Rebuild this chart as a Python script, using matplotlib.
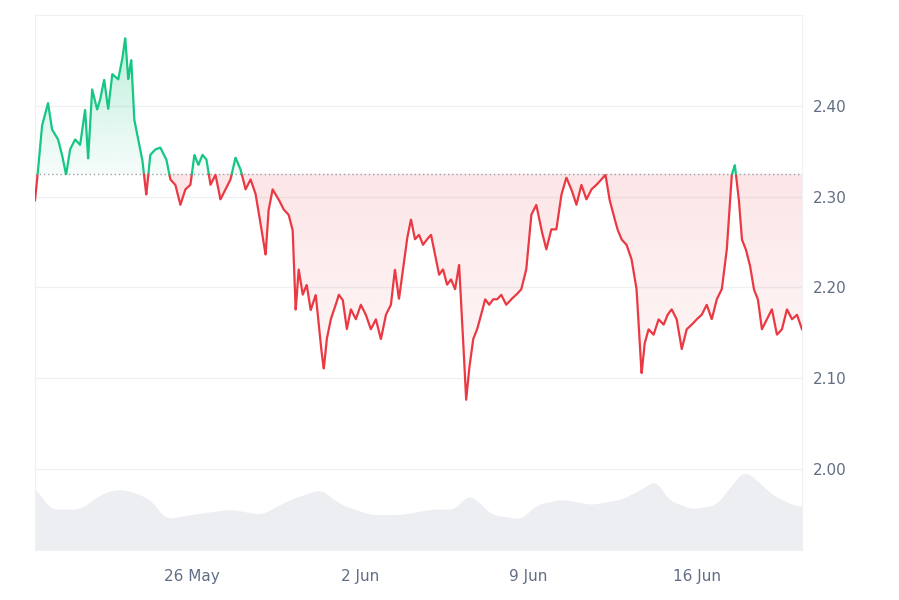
import matplotlib
matplotlib.use("Agg")
import matplotlib.pyplot as plt
import matplotlib.dates as mdates
import numpy as np
import datetime as dt

start = dt.datetime(2025, 5, 19, 12, 0)
hours = [0,3,7,13,17,23,27,31,35,40,45,50,53,57,62,65,69,73,77,83,87,90,93,96,99,103,107,111,115,120,125,131,135,140,145,150,155,159,163,167,171,175,180,185,190,195,200,205,210,215,220,225,230,233,237,243,248,253,257,260,263,267,271,275,280,285,288,291,295,300,303,307,311,315,320,325,330,335,340,345,350,355,359,363,367,371,375,379,383,387,391,395,399,403,407,411,415,419,423,427,430,433,437,441,445,449,453,457,461,465,470,475,480,485,490,495,500,505,510,515,520,525,530,535,540,545,550,555,560,565,569,573,577,581,585,590,595,600,605,608,612,617,622,627,631,635,640,645,650,655,660,665,670,675,680,685,690,695,698,702,705,709,713,717,721,725,730,735,740,745,750,755,760,765]
price = [2.296,2.329,2.378,2.403,2.374,2.363,2.346,2.324,2.352,2.363,2.357,2.396,2.342,2.418,2.396,2.407,2.429,2.396,2.435,2.429,2.451,2.475,2.429,2.451,2.385,2.363,2.341,2.302,2.346,2.352,2.354,2.341,2.319,2.313,2.291,2.308,2.313,2.346,2.335,2.346,2.341,2.313,2.324,2.297,2.308,2.319,2.343,2.330,2.308,2.319,2.303,2.270,2.236,2.285,2.308,2.297,2.286,2.280,2.263,2.175,2.220,2.192,2.203,2.175,2.192,2.137,2.110,2.143,2.165,2.181,2.192,2.186,2.154,2.176,2.165,2.181,2.170,2.154,2.165,2.143,2.170,2.181,2.220,2.187,2.220,2.253,2.275,2.253,2.258,2.247,2.253,2.258,2.236,2.214,2.220,2.203,2.209,2.198,2.225,2.143,2.076,2.110,2.143,2.154,2.170,2.187,2.181,2.187,2.187,2.192,2.181,2.187,2.192,2.198,2.220,2.280,2.291,2.264,2.242,2.264,2.264,2.302,2.321,2.308,2.291,2.313,2.297,2.308,2.313,2.319,2.324,2.297,2.280,2.264,2.253,2.247,2.231,2.198,2.105,2.138,2.154,2.148,2.165,2.159,2.170,2.176,2.165,2.132,2.154,2.159,2.165,2.170,2.181,2.165,2.187,2.198,2.242,2.324,2.335,2.297,2.253,2.242,2.225,2.198,2.187,2.154,2.165,2.176,2.148,2.154,2.176,2.165,2.170,2.154]

vol_hours = [0,15,45,65,80,95,115,130,155,195,225,255,285,305,335,365,395,420,430,440,455,485,500,525,555,585,605,620,630,655,680,695,707,720,735,755,765]
volume = [1.980,1.956,1.956,1.972,1.978,1.976,1.967,1.945,1.950,1.956,1.950,1.967,1.978,1.961,1.950,1.950,1.956,1.956,1.972,1.967,1.950,1.945,1.961,1.967,1.961,1.967,1.978,1.989,1.967,1.956,1.961,1.983,1.999,1.988,1.972,1.961,1.959]

baseline = 2.325
ylo, yhi = 1.911, 2.500

t = np.array([start + dt.timedelta(hours=h) for h in hours])
p = np.array(price)
vt = np.array([start + dt.timedelta(hours=h) for h in vol_hours])
v = np.array(volume)

fig = plt.figure(figsize=(8.99, 6.0), dpi=100)
ax = fig.add_axes([35/899, 50/600, 767/899, 535/600])

green = "#16c784"
red = "#ea3943"

# smooth volume
vn = mdates.date2num(vt)
vf_x = np.linspace(vn[0], vn[-1], 800)
vf = np.interp(vf_x, vn, v)
k = np.ones(15) / 15
vf_s = np.convolve(np.pad(vf, 7, mode="edge"), k, mode="valid")
ax.fill_between(mdates.num2date(vf_x), ylo, vf_s, color="#eceef1", lw=0, zorder=1)

for y in [2.0, 2.1, 2.2, 2.3, 2.4]:
    ax.axhline(y, color="#eef0f3", lw=1, zorder=0)

tn = mdates.date2num(t)
tf = np.linspace(tn[0], tn[-1], 4000)
pf = np.interp(tf, tn, p)
td = mdates.num2date(tf)

ax.set_xlim(t[0], t[-1])
ax.set_ylim(ylo, yhi)

def grad_fill(where, rgb, top, bottom, a_top, a_bot):
    poly = ax.fill_between(td, baseline, pf, where=where, color="none", lw=0, interpolate=True)
    n = 256
    alphas = np.linspace(a_top, a_bot, n)[:, None]
    img = np.zeros((n, 1, 4))
    img[..., :3] = matplotlib.colors.to_rgb(rgb)
    img[..., 3] = alphas
    im = ax.imshow(img, extent=[tf[0], tf[-1], bottom, top], aspect="auto", origin="upper", zorder=2)
    path = poly.get_paths()
    from matplotlib.path import Path
    if path:
        verts = np.concatenate([pp.vertices for pp in path])
        codes = np.concatenate([pp.codes if pp.codes is not None else np.r_[Path.MOVETO, [Path.LINETO]*(len(pp.vertices)-1)] for pp in path])
        im.set_clip_path(Path(verts, codes), transform=ax.transData)

grad_fill(pf >= baseline, green, p.max(), baseline, 0.28, 0.04)
grad_fill(pf <= baseline, red, baseline, p.min(), 0.13, 0.03)

pg = np.where(pf >= baseline, pf, np.nan)
pr = np.where(pf <= baseline, pf, np.nan)
ax.plot(td, pr, color=red, lw=1.6, zorder=3)
ax.plot(td, pg, color=green, lw=1.6, zorder=3)
ax.axhline(baseline, color="#9aa0a8", lw=1, ls=(0, (1, 2)), zorder=2)

ax.set_xlim(t[0], t[-1])
ax.set_ylim(ylo, yhi)
ax.yaxis.tick_right()
ax.set_yticks([2.0, 2.1, 2.2, 2.3, 2.4])
ax.set_yticklabels(["2.00", "2.10", "2.20", "2.30", "2.40"])
ticks = [dt.datetime(2025, 5, 26), dt.datetime(2025, 6, 2), dt.datetime(2025, 6, 9), dt.datetime(2025, 6, 16)]
ax.set_xticks(ticks)
ax.set_xticklabels(["26 May", "2 Jun", "9 Jun", "16 Jun"])
ax.tick_params(length=0, labelsize=11, colors="#616e85", pad=14)
ax.tick_params(axis="y", pad=8)
for s in ax.spines.values():
    s.set_color("#eef0f3")

fig.savefig("out.png", dpi=100, facecolor="white")
